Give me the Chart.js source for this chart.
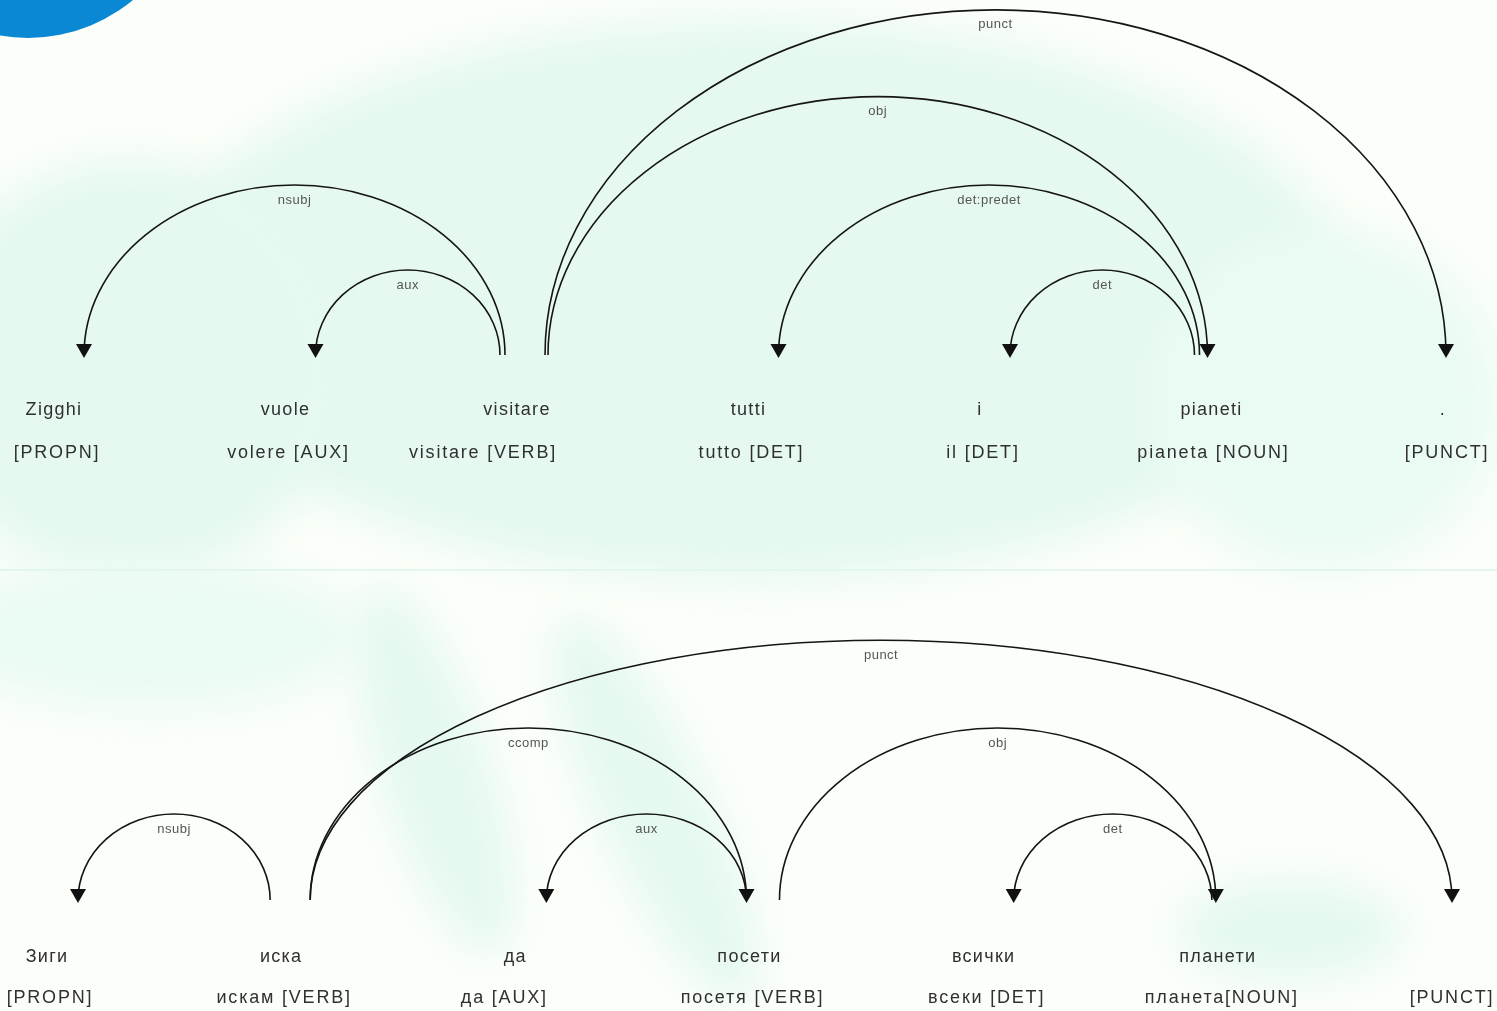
<!DOCTYPE html>
<html>
<head>
<meta charset="utf-8">
<script src="https://cdn.jsdelivr.net/npm/chart.js@4.4.1/dist/chart.umd.min.js"></script>
<style>
html, body { margin: 0; padding: 0; }
body {
    width: 1497px; height: 1011px; overflow: hidden; position: relative;
    background: #fbfef9;
}
.blob { position: absolute; background: #e5f9f0; border-radius: 50%; filter: blur(18px); }
#dot {
    position: absolute; left: -136px; top: -290px; width: 328px; height: 328px;
    border-radius: 50%; background: #0a88d3;
}
#sep { position: absolute; left: 0; top: 569px; width: 1497px; height: 2px; background: #e2f6ed; }
canvas { position: absolute; left: 0; }
#itChart { top: 0; }
#bgChart { top: 570px; }
</style>
</head>
<body>
<!-- pale tree silhouette behind the parse -->
<div class="blob" style="left:150px;top:20px;width:1200px;height:560px;"></div>
<div class="blob" style="left:-80px;top:160px;width:420px;height:420px;"></div>
<div class="blob" style="left:1150px;top:230px;width:350px;height:340px;background:#eafbf3;"></div>
<div class="blob" style="left:-60px;top:560px;width:420px;height:150px;background:#eafbf3;"></div>
<div class="blob" style="left:380px;top:580px;width:110px;height:380px;transform:rotate(-18deg);"></div>
<div class="blob" style="left:600px;top:600px;width:110px;height:420px;transform:rotate(-25deg);"></div>
<div class="blob" style="left:1180px;top:880px;width:220px;height:100px;"></div>
<div id="dot"></div>
<div id="sep"></div>
<canvas id="itChart" width="1497" height="570"></canvas>
<canvas id="bgChart" width="1497" height="441"></canvas>
<script>
// --- Italian sentence ---
const itWords = ['Zigghi', 'vuole', 'visitare', 'tutti', 'i', 'pianeti', '.'];
const itTags = ['[PROPN]', 'volere [AUX]', 'visitare [VERB]', 'tutto [DET]', 'il [DET]', 'pianeta [NOUN]', '[PUNCT]'];
const itHeads = [2, 2, 2, 2, 5, 5];
const itDeps = [0, 1, 6, 5, 3, 4];
const itRels = ['nsubj', 'aux', 'punct', 'obj', 'det:predet', 'det'];
const itLevels = [2, 1, 4.06, 3.04, 2, 1];

// --- Bulgarian sentence ---
const bgWords = ['Зиги', 'иска', 'да', 'посети', 'всички', 'планети', ''];
const bgTags = ['[PROPN]', 'искам [VERB]', 'да [AUX]', 'посетя [VERB]', 'всеки [DET]', 'планета[NOUN]', '[PUNCT]'];
const bgHeads = [1, 1, 1, 3, 3, 5];
const bgDeps = [0, 6, 3, 2, 5, 4];
const bgRels = ['nsubj', 'punct', 'ccomp', 'aux', 'obj', 'det'];
const bgLevels = [1, 3.02, 2, 1, 2, 1];

// layout only: px offsets from the word centre
const itArrowShift = [30, 30, 0, 30, 30, -4, 3];
const itStartShift = [-12, -17, 28, 31, -12, -17];
const itTagShift = [3, 3, -34, 3, 3, 2, 4];
const bgArrowShift = [31, 0, 31, -3, 30, -2, 0];
const bgStartShift = [-11, 29, 29, -3, 30, -6];
const bgTagShift = [3, 3, -11, 3, 3, 4, 0];

const FONT = '"Liberation Sans", Arial, sans-serif';

const arcPlugin = {
    id: 'depArcs',
    afterDatasetsDraw(chart, args, opts) {
        const ctx = chart.ctx;
        const x = chart.scales.x, y = chart.scales.y;
        const base = y.getPixelForValue(0);
        ctx.save();

        // arcs + labels
        opts.heads.forEach((h, k) => {
            const d = opts.deps[k];
            const x0 = x.getPixelForValue(h) + opts.startShift[k];
            const x1 = x.getPixelForValue(d) + opts.arrowShift[d];
            const top = y.getPixelForValue(opts.levels[k]);
            const cx = (x0 + x1) / 2;
            ctx.beginPath();
            ctx.ellipse(cx, base, Math.abs(x1 - x0) / 2, base - top, 0, Math.PI, 2 * Math.PI);
            ctx.strokeStyle = '#151515';
            ctx.lineWidth = 1.6;
            ctx.stroke();

            // arrow head
            ctx.beginPath();
            ctx.moveTo(x1 - 8, base - 11);
            ctx.lineTo(x1 + 8, base - 11);
            ctx.lineTo(x1, base + 3);
            ctx.closePath();
            ctx.fillStyle = '#111';
            ctx.fill();

            ctx.font = '13px ' + FONT;
            ctx.fillStyle = '#555';
            ctx.textAlign = 'center';
            ctx.textBaseline = 'middle';
            ctx.letterSpacing = '0.5px';
            ctx.fillText(opts.rels[k], cx, top + 15);
        });

        // tokens
        ctx.font = '18px ' + FONT;
        ctx.fillStyle = '#303030';
        ctx.textAlign = 'center';
        ctx.textBaseline = 'middle';
        opts.words.forEach((w, i) => {
            const px = x.getPixelForValue(i);
            ctx.letterSpacing = '1.3px';
            ctx.fillText(w, px, base + opts.wordGap);
            ctx.letterSpacing = '1.8px';
            ctx.fillText(opts.tags[i], px + opts.tagShift[i], base + 98);
        });
        ctx.restore();
    }
};

function makeChart(id, words, opts, yMax, padding) {
    return new Chart(document.getElementById(id), {
        type: 'scatter',
        data: {
            datasets: [{
                data: words.map((w, i) => ({ x: i, y: 0 })),
                pointRadius: 0
            }]
        },
        options: {
            responsive: false,
            animation: false,
            layout: { padding: padding },
            scales: {
                x: { type: 'linear', min: 0, max: 6, display: false },
                y: { type: 'linear', min: 0, max: yMax, display: false }
            },
            plugins: {
                legend: { display: false },
                tooltip: { enabled: false },
                depArcs: opts
            }
        },
        plugins: [arcPlugin]
    });
}

makeChart('itChart', itWords, {
    words: itWords, tags: itTags, heads: itHeads, deps: itDeps, rels: itRels, levels: itLevels,
    arrowShift: itArrowShift, startShift: itStartShift, tagShift: itTagShift, wordGap: 55
}, 4, { left: 54, right: 54, top: 15, bottom: 215 });

makeChart('bgChart', bgWords, {
    words: bgWords, tags: bgTags, heads: bgHeads, deps: bgDeps, rels: bgRels, levels: bgLevels,
    arrowShift: bgArrowShift, startShift: bgStartShift, tagShift: bgTagShift, wordGap: 57
}, 3, { left: 47, right: 45, top: 72, bottom: 111 });
</script>
</body>
</html>
